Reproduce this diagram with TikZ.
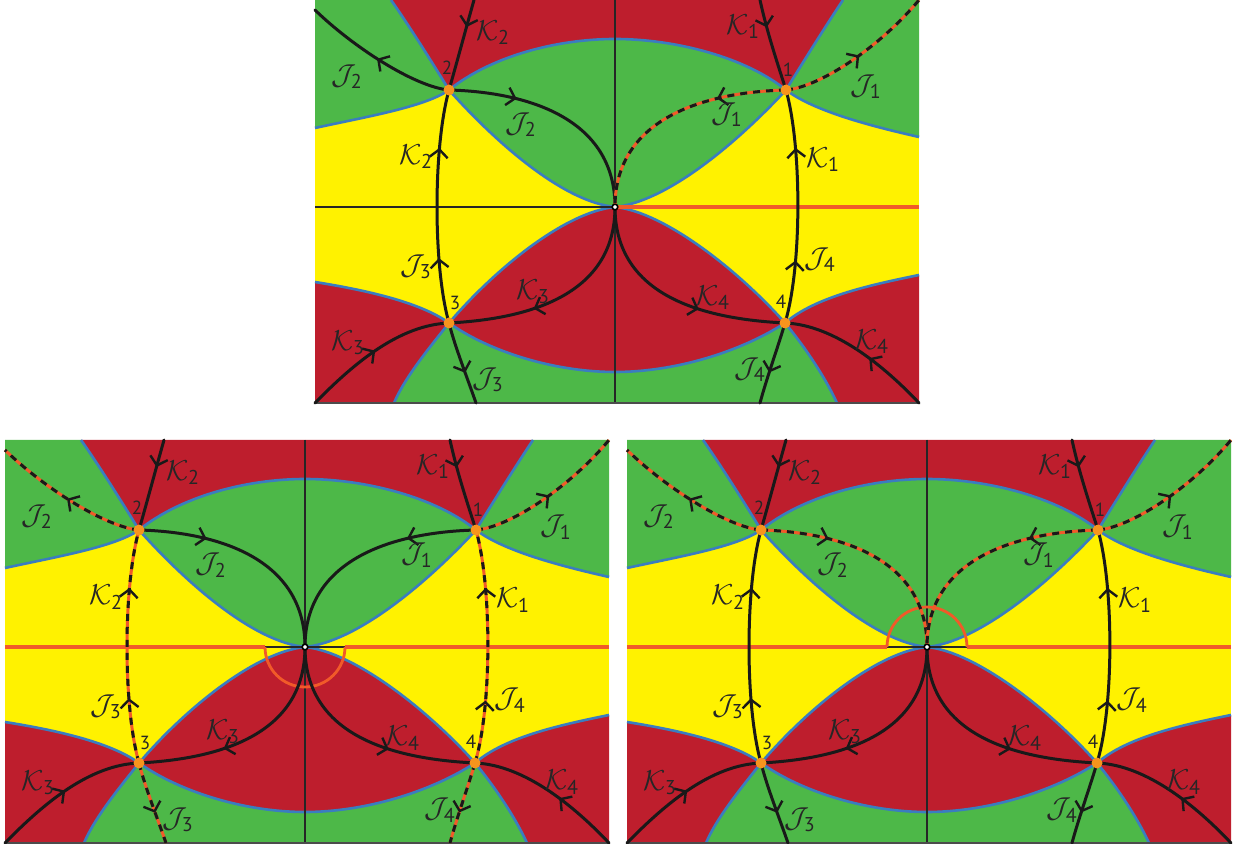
\documentclass[tikz,border=0pt]{standalone}
\usepackage{fix-cm}
\usepackage{amsmath}
\usepackage{fontspec}
\setsansfont{PT Sans}
\usetikzlibrary{arrows.meta,decorations.markings}
\definecolor{cred}{HTML}{BE1E2D}
\definecolor{cgreen}{HTML}{4DB848}
\definecolor{cyellow}{HTML}{FFF200}
\definecolor{cblue}{HTML}{3A7DC0}
\definecolor{corange}{HTML}{F15A29}
\definecolor{cdot}{HTML}{F7941D}
\tikzset{
  blkcurve/.style={draw=black!90, line width=1.5pt, line cap=round},
  solidc/.style={blkcurve},
  dashc/.style={blkcurve, line cap=butt, dash pattern=on 3.5pt off 3pt, preaction={draw=corange, solid, line width=1.5pt}},
  barbtip/.style={solid, line width=1.2pt},
  arr/.style={postaction={decorate, decoration={markings, mark=at position #1 with {\arrow[barbtip]{Straight Barb[length=4pt,width=9pt]}}}}},
  arrtwo/.style 2 args={postaction={decorate, decoration={markings,
      mark=at position #1 with {\arrow[barbtip]{Straight Barb[length=4pt,width=9pt]}},
      mark=at position #2 with {\arrow[barbtip]{Straight Barb[length=4pt,width=9pt]}}}}},
  bnd/.style={draw=cblue, line width=1.3pt},
  thinax/.style={draw=black!85, line width=0.55pt},
  oax/.style={draw=corange, line width=1.6pt},
  oarc/.style={draw=corange, line width=1.4pt},
  frameline/.style={draw=black!70, line width=0.7pt},
  lab/.style={font=\fontsize{14.4}{16}\selectfont, inner sep=0pt, text=black!85},
  num/.style={font=\sffamily\fontsize{9.5}{9.5}\selectfont, inner sep=0pt, text=black!85},
  sK2a/.style=solidc, sV2/.style=solidc, sJ3b/.style=solidc, sJ2L/.style=solidc,
  sJ2R/.style=solidc, sJ1L/.style=solidc, sJ1R/.style=solidc, sK1a/.style=solidc,
  sV1/.style=solidc, sJ4b/.style=solidc, sK3L/.style=solidc, sK3R/.style=solidc,
  sK4L/.style=solidc, sK4R/.style=solidc,
}
\newcommand\panel[2]{%
  \coordinate (#1-o) at (0,0);
  \coordinate (#1-s1) at (171,-117);
  \coordinate (#1-s2) at (-166,-117);
  \coordinate (#1-s3) at (-166,116);
  \coordinate (#1-s4) at (170,116);
  \coordinate (#1-tl) at (-300,-207);
  \coordinate (#1-tr) at (304,-207);
  \coordinate (#1-bl) at (-300,196);
  \coordinate (#1-br) at (304,196);
  \coordinate (#1-rt) at (0,-168);
  \coordinate (#1-rb) at (0,165);
  \coordinate (#1-bA) at (-224,-207);
  \coordinate (#1-bB) at (228,-207);
  \coordinate (#1-bC) at (-300,-79);
  \coordinate (#1-bD) at (304,-70);
  \coordinate (#1-bE) at (-300,75);
  \coordinate (#1-bF) at (304,68);
  \coordinate (#1-bG) at (-221,196);
  \coordinate (#1-bH) at (222,196);
  \coordinate (#1-eK2) at (-141,-207);
  \coordinate (#1-eK1) at (145,-207);
  \coordinate (#1-eJ2) at (-300,-197);
  \coordinate (#1-eJ3) at (-139,196);
  \coordinate (#1-eJ4) at (145,196);
  % regions
  \fill[cyellow] (#1-tl) rectangle (#1-br);
  \fill[cgreen] (#1-tl) -- (#1-bA) .. controls (-205,-180) and (-180,-140) .. (#1-s2) .. controls (-190,-100) and (-250,-90) .. (#1-bC) -- cycle;
  \fill[cred] (#1-bA) -- (#1-bB) .. controls (210,-180) and (185,-140) .. (#1-s1) .. controls (130,-150) and (60,-168) .. (#1-rt) .. controls (-60,-168) and (-125,-150) .. (#1-s2) .. controls (-180,-140) and (-205,-180) .. (#1-bA) -- cycle;
  \fill[cgreen] (#1-bB) -- (#1-tr) -- (#1-bD) .. controls (260,-80) and (200,-95) .. (#1-s1) .. controls (185,-140) and (210,-180) .. (#1-bB) -- cycle;
  \fill[cgreen] (#1-s2) .. controls (-125,-150) and (-60,-168) .. (#1-rt) .. controls (60,-168) and (130,-150) .. (#1-s1) .. controls (118,-60) and (50,-5) .. (#1-o) .. controls (-50,-5) and (-115,-60) .. (#1-s2) -- cycle;
  \fill[cred] (#1-s3) .. controls (-125,145) and (-60,165) .. (#1-rb) .. controls (60,165) and (125,145) .. (#1-s4) .. controls (125,65) and (50,5) .. (#1-o) .. controls (-50,5) and (-120,62) .. (#1-s3) -- cycle;
  \fill[cred] (#1-bE) .. controls (-250,83) and (-195,95) .. (#1-s3) .. controls (-185,140) and (-210,170) .. (#1-bG) -- (#1-bl) -- cycle;
  \fill[cgreen] (#1-bG) .. controls (-210,170) and (-185,140) .. (#1-s3) .. controls (-125,145) and (-60,165) .. (#1-rb) .. controls (60,165) and (125,145) .. (#1-s4) .. controls (190,140) and (210,170) .. (#1-bH) -- cycle;
  \fill[cred] (#1-s4) .. controls (200,90) and (255,78) .. (#1-bF) -- (#1-br) -- (#1-bH) .. controls (210,170) and (190,140) .. (#1-s4) -- cycle;
  % region boundaries
  \draw[bnd] (#1-bA) .. controls (-205,-180) and (-180,-140) .. (#1-s2) .. controls (-190,-100) and (-250,-90) .. (#1-bC);
  \draw[bnd] (#1-bB) .. controls (210,-180) and (185,-140) .. (#1-s1) .. controls (200,-95) and (260,-80) .. (#1-bD);
  \draw[bnd] (#1-s2) .. controls (-125,-150) and (-60,-168) .. (#1-rt) .. controls (60,-168) and (130,-150) .. (#1-s1);
  \draw[bnd] (#1-s2) .. controls (-115,-60) and (-50,-5) .. (#1-o) .. controls (50,-5) and (118,-60) .. (#1-s1);
  \draw[bnd] (#1-s3) .. controls (-120,62) and (-50,5) .. (#1-o) .. controls (50,5) and (125,65) .. (#1-s4);
  \draw[bnd] (#1-s3) .. controls (-125,145) and (-60,165) .. (#1-rb) .. controls (60,165) and (125,145) .. (#1-s4);
  \draw[bnd] (#1-bE) .. controls (-250,83) and (-195,95) .. (#1-s3) .. controls (-185,140) and (-210,170) .. (#1-bG);
  \draw[bnd] (#1-bF) .. controls (255,78) and (200,90) .. (#1-s4) .. controls (190,140) and (210,170) .. (#1-bH);
  % axes (panel specific)
  #2
  % paths
  \draw[sK2a, arr=0.3] (#1-eK2) .. controls (-150,-175) and (-158,-145) .. (#1-s2);
  \draw[sV2, arrtwo={0.28}{0.75}] (#1-s3) .. controls (-182,60) and (-182,-60) .. (#1-s2);
  \draw[sJ3b, arr=0.62] (#1-s3) .. controls (-160,140) and (-148,170) .. (#1-eJ3);
  \draw[sJ2L, arr=0.5] (#1-s2) .. controls (-200,-120) and (-262,-160) .. (#1-eJ2);
  \draw[sJ2R, arr=0.3] (#1-s2) .. controls (-90,-115) and (0,-90) .. (#1-o);
  \draw[sJ1L, arr=0.3] (#1-s1) .. controls (92,-115) and (0,-90) .. (#1-o);
  \draw[sJ1R, arr=0.5] (#1-s1) .. controls (205,-120) and (265,-160) .. (#1-tr);
  \draw[sK1a, arr=0.3] (#1-eK1) .. controls (152,-175) and (162,-145) .. (#1-s1);
  \draw[sV1, arrtwo={0.27}{0.75}] (#1-s4) .. controls (187,60) and (187,-60) .. (#1-s1);
  \draw[sJ4b, arr=0.62] (#1-s4) .. controls (163,140) and (152,170) .. (#1-eJ4);
  \draw[sK3L, arr=0.5] (#1-bl) .. controls (-260,155) and (-215,118) .. (#1-s3);
  \draw[sK3R, arr=0.62] (#1-o) .. controls (0,90) and (-90,112) .. (#1-s3);
  \draw[sK4L, arr=0.62] (#1-o) .. controls (0,90) and (90,112) .. (#1-s4);
  \draw[sK4R, arr=0.42] (#1-br) .. controls (270,160) and (220,118) .. (#1-s4);
  % points
  \foreach \p in {s1,s2,s3,s4} {\fill[cdot] (#1-\p) circle (5.5);}
  \filldraw[fill=white, draw=black, line width=0.8pt] (#1-o) circle (2.8);
  % labels
  \node[lab] (#1-lK2a) at (-122,-174) {$\mathcal{K}_{\textsf{2}}$};
  \node[lab] (#1-lJ2L) at (-268,-130) {$\mathcal{J}_{\textsf{2}}$};
  \node[lab] (#1-lJ2R) at (-94,-82) {$\mathcal{J}_{\textsf{2}}$};
  \node[lab] (#1-lK2b) at (-199,-50) {$\mathcal{K}_{\textsf{2}}$};
  \node[lab] (#1-lJ3a) at (-199,60) {$\mathcal{J}_{\textsf{3}}$};
  \node[lab] (#1-lK3L) at (-267,136) {$\mathcal{K}_{\textsf{3}}$};
  \node[lab] (#1-lK3R) at (-82,85) {$\mathcal{K}_{\textsf{3}}$};
  \node[lab] (#1-lJ3b) at (-127,173) {$\mathcal{J}_{\textsf{3}}$};
  \node[lab] (#1-lK1a) at (128,-180) {$\mathcal{K}_{\textsf{1}}$};
  \node[lab] (#1-lJ1R) at (251,-120) {$\mathcal{J}_{\textsf{1}}$};
  \node[lab] (#1-lJ1L) at (112,-92) {$\mathcal{J}_{\textsf{1}}$};
  \node[lab] (#1-lK1b) at (208,-47) {$\mathcal{K}_{\textsf{1}}$};
  \node[lab] (#1-lJ4a) at (205,53) {$\mathcal{J}_{\textsf{4}}$};
  \node[lab] (#1-lK4L) at (98,91) {$\mathcal{K}_{\textsf{4}}$};
  \node[lab] (#1-lK4R) at (257,135) {$\mathcal{K}_{\textsf{4}}$};
  \node[lab] (#1-lJ4b) at (135,163) {$\mathcal{J}_{\textsf{4}}$};
  \node[num] (#1-n1) at (173,-137) {1};
  \node[num] (#1-n2) at (-168,-139) {2};
  \node[num] (#1-n3) at (-160,96) {3};
  \node[num] (#1-n4) at (166,95) {4};
}
\begin{document}
\begin{tikzpicture}[x=0.5pt,y=-0.5pt]
\useasboundingbox (0,0) rectangle (1237,844);
% top panel
\begin{scope}[shift={(615,207)}, sJ1L/.style=dashc, sJ1R/.style=dashc]
\panel{T}{%
  \draw[thinax] (-300,0) -- (304,0);
  \draw[thinax] (0,-207) -- (0,196);
  \draw[oax] (0,0) -- (304,0);
  \draw[frameline] (-300,196) -- (304,196);}
\end{scope}
% bottom-left panel
\begin{scope}[shift={(305,647)}, sJ2L/.style=dashc, sJ1R/.style=dashc, sV2/.style=dashc,
  sJ3b/.style=dashc, sV1/.style=dashc, sJ4b/.style=dashc]
\panel{L}{%
  \draw[thinax] (-300,0) -- (304,0);
  \draw[thinax] (0,-207) -- (0,196);
  \draw[oax] (-300,0) -- (-40,0);
  \draw[oax] (40,0) -- (304,0);
  \draw[oarc] (-40,0) arc[start angle=180, end angle=0, radius=40];
  \draw[frameline] (-300,196) -- (304,196);}
\end{scope}
% bottom-right panel
\begin{scope}[shift={(927,647)}, sJ2L/.style=dashc, sJ2R/.style=dashc, sJ1L/.style=dashc, sJ1R/.style=dashc]
\panel{R}{%
  \draw[thinax] (-300,0) -- (304,0);
  \draw[thinax] (0,-207) -- (0,196);
  \draw[oax] (-300,0) -- (-40,0);
  \draw[oax] (40,0) -- (304,0);
  \draw[oarc] (-40,0) arc[start angle=180, end angle=360, radius=40];
  \draw[frameline] (-300,196) -- (304,196);}
\end{scope}
\end{tikzpicture}
\end{document}
